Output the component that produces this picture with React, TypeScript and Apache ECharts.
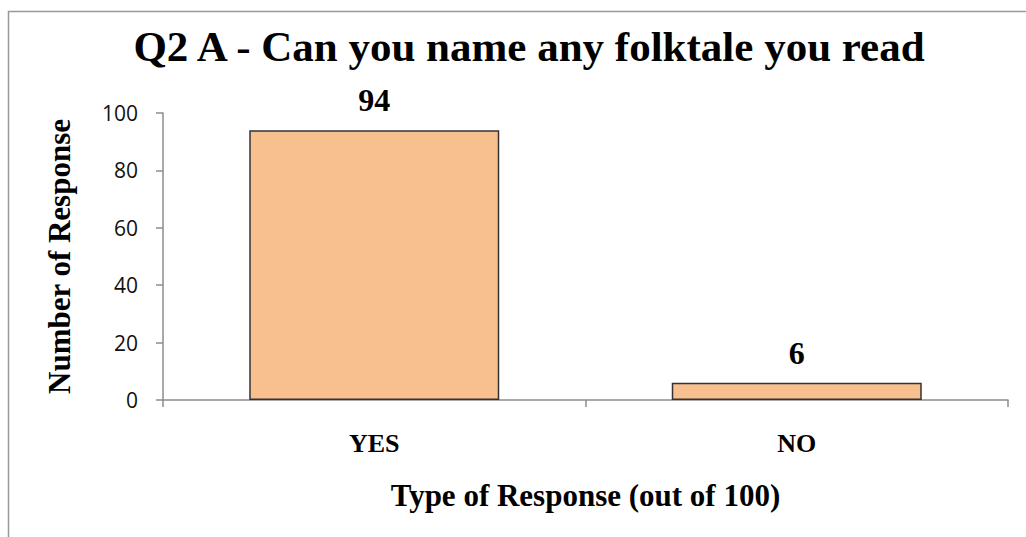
import React, { useEffect, useRef } from "react";
import * as echarts from "echarts";

const categories = ["YES", "NO"];
const values = [94, 6];
const yTicks = { min: 0, max: 100, interval: 20 };
const titleText = "Q2 A - Can you name any folktale you read";
const xName = "Type of Response (out of 100)";
const yName = "Number of Response";

export default function App() {
  const ref = useRef<HTMLDivElement>(null);
  useEffect(() => {
    const chart = echarts.init(ref.current!, null, { renderer: "svg" });
    const serif = "'Liberation Serif', 'Times New Roman', serif";
    chart.setOption({
      animation: false,
      backgroundColor: "#ffffff",
      title: {
        text: titleText,
        left: 524,
        top: 20,
        textAlign: "center",
        textStyle: { fontFamily: serif, fontWeight: "bold", fontSize: 43, color: "#000" },
      },
      graphic: [
        {
          type: "rect",
          shape: { x: 8.5, y: 11.5, width: 1040, height: 560 },
          style: { fill: "none", stroke: "#999", lineWidth: 1.5 },
          silent: true,
        },
      ],
      grid: { left: 163, right: 18, top: 113, bottom: 137 },
      xAxis: {
        type: "category",
        data: categories,
        name: xName,
        nameLocation: "middle",
        nameGap: 80,
        nameTextStyle: { fontFamily: serif, fontWeight: "bold", fontSize: 31, color: "#000" },
        axisLine: { lineStyle: { color: "#8c8c8c", width: 1.5 } },
        axisTick: { show: true, length: 7, lineStyle: { color: "#8c8c8c", width: 1.5 } },
        axisLabel: { margin: 30, fontFamily: serif, fontWeight: "bold", fontSize: 26, color: "#000" },
      },
      yAxis: {
        type: "value",
        min: yTicks.min,
        max: yTicks.max,
        interval: yTicks.interval,
        name: yName,
        nameLocation: "middle",
        nameGap: 88,
        nameTextStyle: { fontFamily: serif, fontWeight: "bold", fontSize: 31, color: "#000" },
        splitLine: { show: false },
        axisLine: { show: true, lineStyle: { color: "#8c8c8c", width: 1.5 } },
        axisTick: { show: true, length: 7, lineStyle: { color: "#8c8c8c", width: 1.5 } },
        axisLabel: { margin: 25, fontFamily: "'Open Sans', sans-serif", fontSize: 21, color: "#111" },
      },
      series: [
        {
          type: "bar",
          data: values,
          barWidth: 250,
          itemStyle: { color: "#F9C08F", borderColor: "#333", borderWidth: 1.5 },
          label: {
            show: true,
            position: "top",
            distance: 14,
            fontFamily: serif,
            fontWeight: "bold",
            fontSize: 32,
            color: "#000",
          },
        },
      ],
    });
    return () => chart.dispose();
  }, []);
  return (
    <div
      ref={ref}
      style={{ position: "fixed", left: 0, top: 0, width: 1026, height: 537 }}
    />
  );
}
